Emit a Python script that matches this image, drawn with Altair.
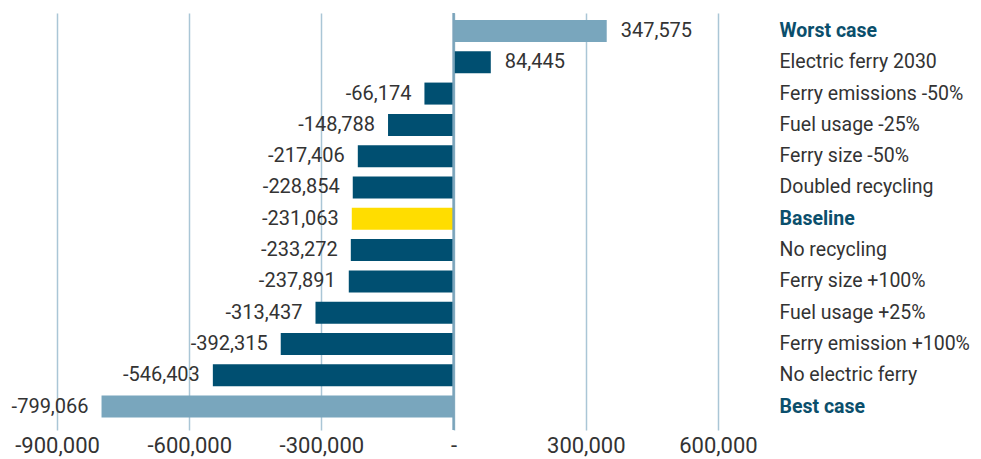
import altair as alt
import pandas as pd

scenarios = ["Worst case", "Electric ferry 2030", "Ferry emissions -50%", "Fuel usage -25%",
             "Ferry size -50%", "Doubled recycling", "Baseline", "No recycling",
             "Ferry size +100%", "Fuel usage +25%", "Ferry emission +100%",
             "No electric ferry", "Best case"]
values = [347575, 84445, -66174, -148788, -217406, -228854, -231063, -233272,
          -237891, -313437, -392315, -546403, -799066]
kinds = ["extreme", "scenario", "scenario", "scenario", "scenario", "scenario", "baseline",
         "scenario", "scenario", "scenario", "scenario", "scenario", "extreme"]
tick_values = [-900000, -600000, -300000, 0, 300000, 600000]

df = pd.DataFrame({"scenario": scenarios, "value": values, "kind": kinds})

FONT = "Roboto"
x_scale = alt.Scale(domain=[-1000000, 700000], nice=False, zero=False)
y_scale = alt.Scale(domain=scenarios, paddingInner=0.297, paddingOuter=0.309, align=0.36)

bold_test = "datum.value == 'Worst case' || datum.value == 'Baseline' || datum.value == 'Best case'"

x_enc = alt.X("value:Q", scale=x_scale, title=None,
              axis=alt.Axis(values=tick_values, grid=True, gridColor="#aac6d6", gridWidth=1.5,
                            domain=False, ticks=False, labelFont=FONT, labelFontSize=22,
                            labelColor="#333333", labelPadding=5,
                            labelExpr="datum.value == 0 ? '-' : (datum.value < 0 ? '-' : '') + format(abs(datum.value), ',')"))
y_enc = alt.Y("scenario:N", scale=y_scale, sort=scenarios, title=None,
              axis=alt.Axis(orient="right", domain=False, ticks=False, grid=False,
                            labelFont=FONT, labelFontSize=19.5, labelAlign="left",
                            labelPadding=17, labelLimit=300,
                            labelColor={"condition": {"test": bold_test, "value": "#0b4f6c"}, "value": "#333333"},
                            labelFontWeight={"condition": {"test": bold_test, "value": "bold"}, "value": "normal"}))

base = alt.Chart(df).transform_calculate(
    label="(datum.value < 0 ? '-' : '') + format(abs(datum.value), ',')"
)

bars = base.mark_bar().encode(
    x=x_enc,
    y=y_enc,
    color=alt.Color("kind:N", legend=None,
                    scale=alt.Scale(domain=["extreme", "scenario", "baseline"],
                                    range=["#79a6bd", "#004f71", "#ffdd00"])),
)

pos_text = base.transform_filter("datum.value >= 0").mark_text(
    align="left", baseline="middle", dx=14, font=FONT, fontSize=20, color="#333333"
).encode(x="value:Q", y=alt.Y("scenario:N", sort=scenarios), text="label:N")

neg_text = base.transform_filter("datum.value < 0").mark_text(
    align="right", baseline="middle", dx=-13, font=FONT, fontSize=20, color="#333333"
).encode(x="value:Q", y=alt.Y("scenario:N", sort=scenarios), text="label:N")

zero = alt.Chart(pd.DataFrame({"z": [0]})).mark_rule(color="#7ba4bb", strokeWidth=2.5).encode(
    x=alt.X("z:Q")
)

chart = alt.layer(bars, zero, pos_text, neg_text).properties(
    width=749, height=417,
    autosize=alt.AutoSizeParams(type="none"),
    padding={"left": 5, "top": 5, "right": 211, "bottom": 29},
    background="white",
).configure_view(stroke=None)

chart.save("out.html", embed_options={"renderer": "svg", "actions": False})
